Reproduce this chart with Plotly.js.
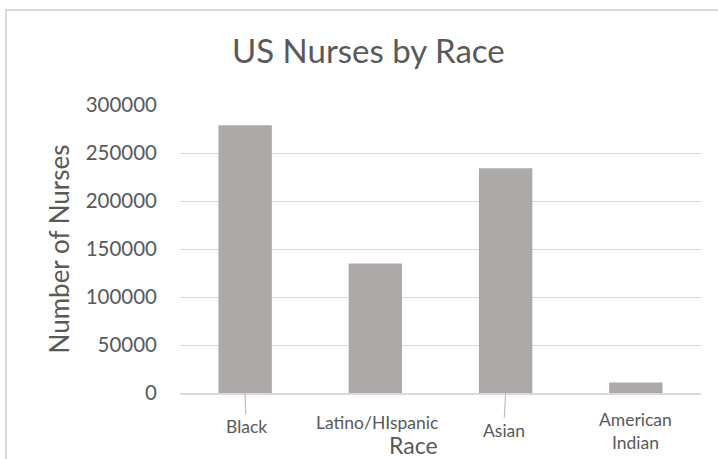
<!DOCTYPE html>
<html>
<head>
<meta charset="utf-8">
<script src="https://cdn.plot.ly/plotly-3.0.1.min.js"></script>
<style>
html,body{margin:0;padding:0;background:#fff;}
#frame{position:absolute;left:5px;top:9px;width:720px;height:460px;border-left:2px solid #d9d9d9;border-top:2px solid #d9d9d9;}
#chart{position:absolute;left:0;top:0;width:718px;height:459px;}
</style>
</head>
<body>
<div id="frame"></div>
<div id="chart"></div>
<script>
const categories = ["Black", "Latino/HIspanic", "Asian", "American Indian"];
const tickLabels = ["Black", "Latino/HIspanic", "Asian", "American<br>Indian"];
const nurses = [279000, 135000, 234000, 11000];
const yTicks = [0, 50000, 100000, 150000, 200000, 250000, 300000];

const textColor = "#595959";
const fontFam = "Lato, 'Open Sans', sans-serif";

// label placement (pixel offsets below the axis) and whether a leader line is shown
const labelOffsets = [33, 29, 37, 38];
const labelXShift = [1, 2, -2, 0];
const leader = [true, false, true, false];

const annotations = categories.map((c, i) => ({
  x: c, y: 0, xref: "x", yref: "y",
  text: tickLabels[i],
  showarrow: true,
  arrowhead: 0, arrowwidth: 1.2,
  arrowcolor: leader[i] ? "#bfbfbf" : "rgba(0,0,0,0)",
  ax: labelXShift[i], ay: labelOffsets[i],
  font: {family: fontFam, size: 17.5, color: textColor},
  align: "center"
}));
annotations.push({
  xref: "paper", yref: "paper", x: 0.448, y: -0.18,
  xanchor: "center", yanchor: "middle",
  text: "Race", showarrow: false,
  font: {family: fontFam, size: 23, color: textColor}
});

const trace = {
  type: "bar",
  x: categories,
  y: nurses,
  marker: {color: "#ada9a8"},
  hoverinfo: "x+y"
};

const layout = {
  width: 718, height: 459,
  margin: {l: 180, r: 17, t: 105, b: 66},
  paper_bgcolor: "rgba(0,0,0,0)",
  plot_bgcolor: "rgba(0,0,0,0)",
  bargap: 0.59,
  showlegend: false,
  title: {
    text: "US Nurses by Race",
    x: 0.513, xanchor: "center",
    y: 0.888, yanchor: "middle",
    font: {family: fontFam, size: 33, color: textColor}
  },
  xaxis: {
    type: "category",
    showticklabels: false,
    showgrid: false,
    showline: true, linecolor: "#d9d9d9", linewidth: 1.5,
    ticks: "", fixedrange: true
  },
  yaxis: {
    range: [0, 300000],
    tickvals: yTicks,
    ticktext: yTicks.map(String),
    showgrid: true, gridcolor: "#d9d9d9", gridwidth: 1,
    zeroline: false, showline: false,
    ticklabelstandoff: 22,
    tickfont: {family: fontFam, size: 20.5, color: textColor},
    title: {text: "Number of Nurses", standoff: 8,
            font: {family: fontFam, size: 26, color: textColor}},
    fixedrange: true
  },
  annotations: annotations
};

Plotly.newPlot("chart", [trace], layout, {displayModeBar: false, staticPlot: true});
</script>
</body>
</html>
